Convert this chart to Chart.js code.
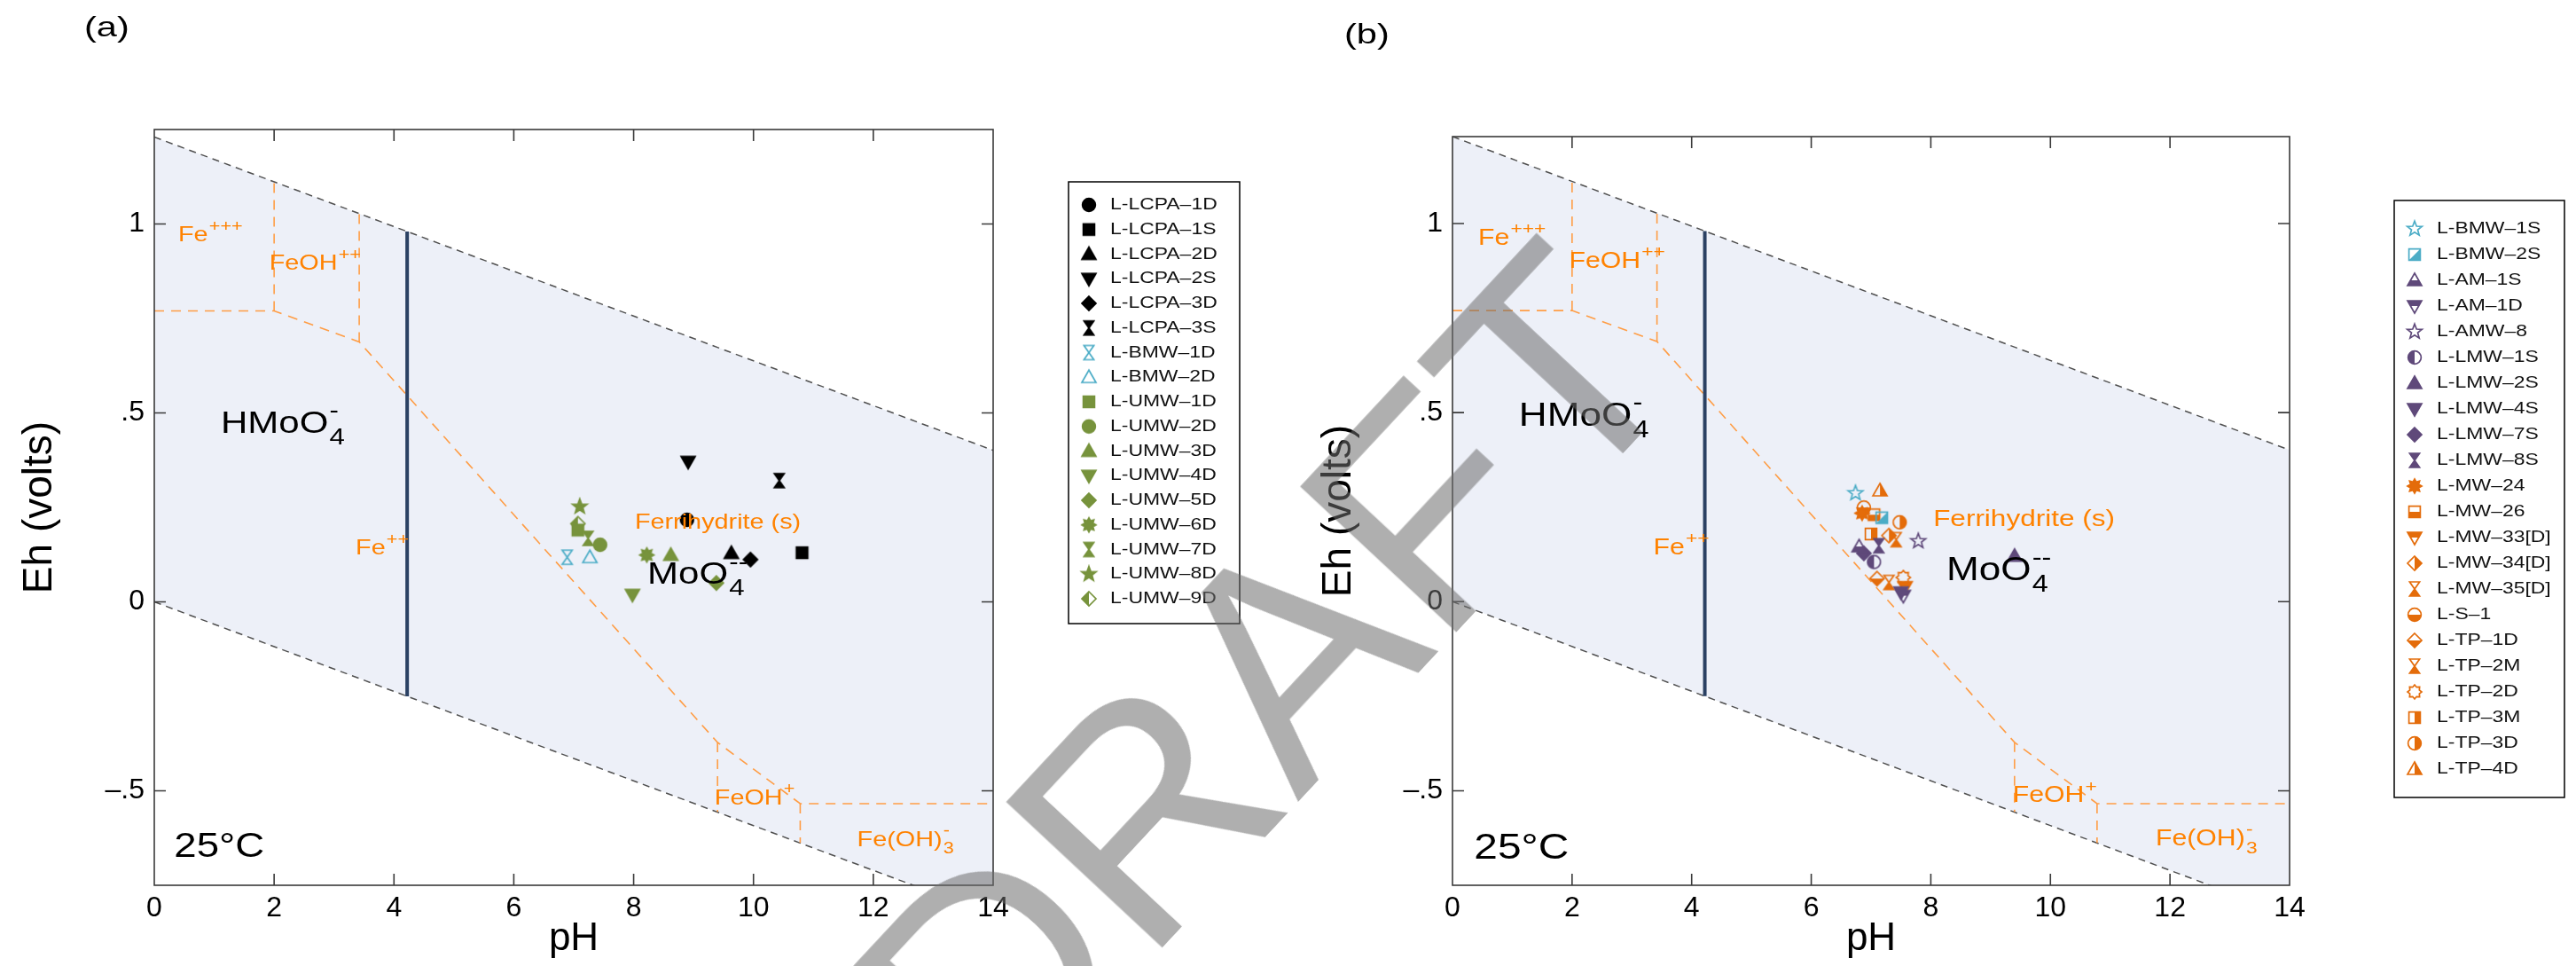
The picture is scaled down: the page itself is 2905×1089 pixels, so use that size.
<!DOCTYPE html>
<html>
<head>
<meta charset="utf-8">
<script src="https://cdn.jsdelivr.net/npm/chart.js@4.4.1/dist/chart.umd.min.js"></script>
<style>
  html, body { margin: 0; padding: 0; background: #fff; }
  body { width: 2905px; height: 1089px; position: relative; overflow: hidden; }
  .panel { position: absolute; top: 0; height: 1089px; }
  #wrapA { left: 0; width: 1452px; }
  #wrapB { left: 1452px; width: 1453px; }
  .tag { position: absolute; font: 32px "Liberation Sans", Arial, sans-serif; transform: scaleX(1.3); transform-origin: left top; }
  #draft { position: absolute; left: 1428px; top: 765px; transform: translate(-50%, -50%) rotate(-47deg);
           font: 350px "Liberation Sans", Arial, sans-serif; color: rgba(110, 110, 110, 0.55);
           line-height: 1; white-space: nowrap; pointer-events: none; z-index: 10; }
</style>
</head>
<body>
<div id="wrapA" class="panel"><canvas id="chartA" width="1452" height="1089"></canvas></div>
<div id="wrapB" class="panel"><canvas id="chartB" width="1453" height="1089"></canvas></div>
<div class="tag" style="left:95px; top:12px">(a)</div>
<div class="tag" style="left:1516px; top:20px">(b)</div>
<div id="draft">DRAFT</div>
<script>
// ---------- axes ----------
const xTicks = [0, 2, 4, 6, 8, 10, 12, 14];
const yTicks = [-0.5, 0, 0.5, 1];

// ---------- boundaries (pH, Eh) ----------
const waterUpper = [[0, 1.23], [14, 0.401]];
const waterLower = [[0, 0], [14, -0.829]];
const moBoundary = [[4.22, 0.98], [4.22, -0.25]];
const feBoundaries = [
  [[0, 0.77], [2, 0.77], [3.42, 0.688], [9.4, -0.372], [10.78, -0.534], [14, -0.534]],
  [[2, 0.77], [2, 1.112]],
  [[3.42, 0.688], [3.42, 1.028]],
  [[9.4, -0.372], [9.4, -0.556]],
  [[10.78, -0.534], [10.78, -0.638]]
];

// ---------- field labels: [text, subscript, superscript] ----------
const speciesText = [
  ['Fe', '', '+++'], ['FeOH', '', '++'], ['HMoO', '4', '-'], ['Fe', '', '++'],
  ['Ferrihydrite (s)', '', ''], ['MoO', '4', '--'], ['FeOH', '', '+'], ['Fe(OH)', '3', '-'], ['25°C', '', '']
];
const speciesPhA = [0.40, 1.92, 1.11, 3.36, 8.02, 8.23, 9.35, 11.73, 0.33];
const speciesEhA = [0.97, 0.895, 0.47, 0.14, 0.21, 0.07, -0.52, -0.63, -0.65];
const speciesPhB = [0.43, 1.95, 1.11, 3.36, 8.04, 8.26, 9.37, 11.76, 0.36];
const speciesEhB = [0.96, 0.90, 0.49, 0.141, 0.216, 0.081, -0.514, -0.628, -0.654];

// ---------- samples, panel (a) ----------
const samplesA = ['L-LCPA–1D', 'L-LCPA–1S', 'L-LCPA–2D', 'L-LCPA–2S', 'L-LCPA–3D', 'L-LCPA–3S',
  'L-BMW–1D', 'L-BMW–2D', 'L-UMW–1D', 'L-UMW–2D', 'L-UMW–3D', 'L-UMW–4D', 'L-UMW–5D',
  'L-UMW–6D', 'L-UMW–7D', 'L-UMW–8D', 'L-UMW–9D'];
const phA = [8.89, 10.81, 9.63, 8.91, 9.95, 10.43, 6.89, 7.27, 7.07, 7.44, 8.62, 7.98, 9.38, 8.22, 7.24, 7.10, 7.07];
const ehA = [0.217, 0.130, 0.129, 0.371, 0.112, 0.321, 0.118, 0.118, 0.190, 0.151, 0.124, 0.019, 0.050, 0.124, 0.168, 0.252, 0.207];

// ---------- samples, panel (b) ----------
const samplesB = ['L-BMW–1S', 'L-BMW–2S', 'L-AM–1S', 'L-AM–1D', 'L-AMW–8', 'L-LMW–1S', 'L-LMW–2S',
  'L-LMW–4S', 'L-LMW–7S', 'L-LMW–8S', 'L-MW–24', 'L-MW–26', 'L-MW–33[D]', 'L-MW–34[D]',
  'L-MW–35[D]', 'L-S–1', 'L-TP–1D', 'L-TP–2M', 'L-TP–2D', 'L-TP–3M', 'L-TP–3D', 'L-TP–4D'];
const phB = [6.74, 7.18, 6.80, 7.54, 7.79, 7.05, 9.40, 7.50, 6.88, 7.13, 6.85, 7.05, 7.57, 7.30, 7.30, 6.88, 7.10, 7.42, 7.54, 7.00, 7.48, 7.15];
const ehB = [0.287, 0.222, 0.146, 0.016, 0.160, 0.105, 0.121, 0.025, 0.128, 0.148, 0.234, 0.230, 0.039, 0.175, 0.051, 0.249, 0.061, 0.164, 0.064, 0.179, 0.210, 0.294];

// ---------- marker styles ----------
const BLACK = '#000000', CYAN = '#4bacc6', GREEN = '#77933c', PURPLE = '#5f497a', ORANGE = '#e46c0a';
const shapesA = ['circle', 'square', 'triUp', 'triDown', 'diamond', 'hourglass', 'hourglass', 'triUp',
  'square', 'circle', 'triUp', 'triDown', 'diamond', 'star8', 'hourglass', 'star5', 'diamond'];
const colorsA = [BLACK, BLACK, BLACK, BLACK, BLACK, BLACK, CYAN, CYAN,
  GREEN, GREEN, GREEN, GREEN, GREEN, GREEN, GREEN, GREEN, GREEN];
const fillsA = ['full', 'full', 'full', 'full', 'full', 'full', 'none', 'none',
  'full', 'full', 'full', 'full', 'full', 'full', 'full', 'full', 'left'];
const shapesB = ['star5', 'square', 'triUp', 'triDown', 'star5', 'circle', 'triUp', 'triDown', 'diamond',
  'hourglass', 'star8', 'square', 'triDown', 'diamond', 'hourglass', 'circle', 'diamond', 'hourglass',
  'sun', 'square', 'circle', 'triUp'];
const colorsB = [CYAN, CYAN, PURPLE, PURPLE, PURPLE, PURPLE, PURPLE, PURPLE, PURPLE, PURPLE,
  ORANGE, ORANGE, ORANGE, ORANGE, ORANGE, ORANGE, ORANGE, ORANGE, ORANGE, ORANGE, ORANGE, ORANGE];
const fillsB = ['none', 'diag', 'bottom', 'top', 'none', 'left', 'full', 'full', 'full', 'full',
  'full', 'bottom', 'top', 'right', 'bottom', 'bottom', 'bottom', 'bottom', 'none', 'right', 'right', 'right'];

const FONT = '"Liberation Sans", Arial, Helvetica, sans-serif';
const FE_ORANGE = '#ff8200';
const TEXT_STRETCH = 1.2;

function makeMarker(shape, color, fill, size) {
  const S = size + 6;
  const c = document.createElement('canvas');
  c.width = S; c.height = S;
  const ctx = c.getContext('2d');
  const m = S / 2, r = size / 2;
  const path = () => {
    ctx.beginPath();
    if (shape === 'circle') {
      ctx.arc(m, m, r * 0.92, 0, Math.PI * 2);
    } else if (shape === 'square') {
      ctx.rect(m - r * 0.8, m - r * 0.8, r * 1.6, r * 1.6);
    } else if (shape === 'triUp') {
      ctx.moveTo(m, m - r); ctx.lineTo(m + r, m + r * 0.75); ctx.lineTo(m - r, m + r * 0.75);
    } else if (shape === 'triDown') {
      ctx.moveTo(m, m + r); ctx.lineTo(m + r, m - r * 0.75); ctx.lineTo(m - r, m - r * 0.75);
    } else if (shape === 'diamond') {
      ctx.moveTo(m, m - r); ctx.lineTo(m + r, m); ctx.lineTo(m, m + r); ctx.lineTo(m - r, m);
    } else if (shape === 'hourglass') {
      ctx.moveTo(m - r * 0.7, m - r); ctx.lineTo(m + r * 0.7, m - r);
      ctx.lineTo(m - r * 0.7, m + r); ctx.lineTo(m + r * 0.7, m + r);
    } else {
      const n = shape === 'star5' ? 5 : 8;
      const inner = shape === 'star5' ? 0.42 : (shape === 'sun' ? 0.72 : 0.62);
      const R = shape === 'star5' ? r * 1.1 : r;
      for (let k = 0; k < 2 * n; k++) {
        const a = -Math.PI / 2 + k * Math.PI / n;
        const rad = k % 2 ? R * inner : R;
        ctx.lineTo(m + rad * Math.cos(a), m + rad * Math.sin(a));
      }
    }
    ctx.closePath();
  };
  ctx.lineWidth = 1.7;
  ctx.strokeStyle = color;
  ctx.fillStyle = color;
  if (fill === 'full') {
    path(); ctx.fill();
  } else if (fill !== 'none') {
    ctx.save();
    path(); ctx.clip();
    ctx.beginPath();
    if (fill === 'left') ctx.rect(0, 0, m, S);
    else if (fill === 'right') ctx.rect(m, 0, S, S);
    else if (fill === 'top') ctx.rect(0, 0, S, m);
    else if (fill === 'bottom') ctx.rect(0, m, S, S);
    else { ctx.moveTo(S, 0); ctx.lineTo(S, S); ctx.lineTo(0, S); ctx.closePath(); }
    ctx.fill();
    ctx.restore();
  }
  path(); ctx.stroke();
  return c;
}

function drawChem(ctx, x, y, parts, size, color) {
  const [base, sub, sup] = parts;
  ctx.save();
  ctx.translate(x, y);
  ctx.scale(TEXT_STRETCH, 1);
  ctx.fillStyle = color;
  ctx.textBaseline = 'middle';
  ctx.textAlign = 'left';
  ctx.font = size + 'px ' + FONT;
  ctx.fillText(base, 0, 0);
  const cx = ctx.measureText(base).width + 1;
  ctx.font = Math.round(size * 0.74) + 'px ' + FONT;
  if (sub) ctx.fillText(sub, cx, size * 0.43);
  if (sup) ctx.fillText(sup, cx, -size * 0.4);
  ctx.restore();
}

const toXY = pts => pts.map(p => ({ x: p[0], y: p[1] }));
const fmtEh = v => v === 0 ? '0' : (v < 0 ? '–' : '') + String(Math.abs(v)).replace(/^0(?=\.)/, '');

function buildPanel(id, cfg) {
  const markers = cfg.shapes.map((s, i) => makeMarker(s, cfg.colors[i], cfg.fills[i], 16));

  const datasets = [
    { type: 'line', data: toXY(waterUpper), borderColor: '#505050', borderWidth: 1.5, borderDash: [8, 6],
      pointRadius: 0, fill: '+1', backgroundColor: '#edf0f8', order: 6 },
    { type: 'line', data: toXY(waterLower), borderColor: '#505050', borderWidth: 1.5, borderDash: [8, 6],
      pointRadius: 0, fill: false, order: 5 }
  ];
  feBoundaries.forEach(seg => datasets.push({
    type: 'line', data: toXY(seg), borderColor: '#ff9d45', borderWidth: 1.6, borderDash: [11, 8],
    pointRadius: 0, fill: false, order: 4
  }));
  datasets.push({ type: 'line', data: toXY(moBoundary), borderColor: '#2b4163', borderWidth: 4,
    pointRadius: 0, fill: false, order: 3 });
  cfg.names.forEach((n, i) => datasets.push({
    type: 'scatter', label: n, data: [{ x: cfg.ph[i], y: cfg.eh[i] }],
    pointStyle: markers[i], pointRadius: 8, order: 0
  }));

  // field names
  const speciesPlugin = {
    id: 'species',
    afterDatasetsDraw(chart) {
      const { ctx, scales: { x, y } } = chart;
      speciesText.forEach((parts, i) => {
        let size = 24, color = FE_ORANGE;
        if (parts[0] === 'HMoO' || parts[0] === 'MoO') { size = 35; color = '#000'; }
        if (parts[0] === '25°C') { size = 38; color = '#000'; }
        if (parts[0].startsWith('Ferri')) size = cfg.ferriSize;
        drawChem(ctx, x.getPixelForValue(cfg.spPh[i]), y.getPixelForValue(cfg.spEh[i]), parts, size * cfg.textScale, color);
      });
    }
  };

  // box with inward ticks on all four sides
  const framePlugin = {
    id: 'frame',
    afterDraw(chart) {
      const { ctx, chartArea: a, scales: { x, y } } = chart;
      ctx.save();
      ctx.strokeStyle = '#3a3a3a';
      ctx.lineWidth = 1.6;
      ctx.strokeRect(a.left, a.top, a.right - a.left, a.bottom - a.top);
      ctx.beginPath();
      xTicks.slice(1, -1).forEach(v => {
        const px = x.getPixelForValue(v);
        ctx.moveTo(px, a.bottom); ctx.lineTo(px, a.bottom - 13);
        ctx.moveTo(px, a.top); ctx.lineTo(px, a.top + 13);
      });
      yTicks.forEach(v => {
        const py = y.getPixelForValue(v);
        ctx.moveTo(a.left, py); ctx.lineTo(a.left + 13, py);
        ctx.moveTo(a.right, py); ctx.lineTo(a.right - 13, py);
      });
      ctx.stroke();
      ctx.restore();
    }
  };

  // boxed legend to the right of the plot
  const legendPlugin = {
    id: 'sampleLegend',
    afterDraw(chart) {
      const { ctx } = chart;
      const L = cfg.legend;
      ctx.save();
      ctx.strokeStyle = '#000';
      ctx.lineWidth = 1.5;
      ctx.strokeRect(L.x, L.y, L.w, L.h);
      cfg.names.forEach((n, i) => {
        const ry = L.rowY + i * L.step;
        const mk = markers[i];
        ctx.drawImage(mk, L.markerX - mk.width / 2, ry - mk.height / 2);
        ctx.save();
        ctx.translate(L.textX, ry);
        ctx.scale(1.24, 1);
        ctx.fillStyle = '#111';
        ctx.font = '18.5px ' + FONT;
        ctx.textBaseline = 'middle';
        ctx.fillText(n, 0, 0);
        ctx.restore();
      });
      ctx.restore();
    }
  };

  return new Chart(document.getElementById(id), {
    type: 'scatter',
    data: { datasets },
    options: {
      responsive: false,
      animation: false,
      devicePixelRatio: 1,
      layout: { padding: cfg.padding },
      plugins: { legend: { display: false }, tooltip: { enabled: false } },
      scales: {
        x: {
          type: 'linear', min: 0, max: 14,
          afterBuildTicks: s => { s.ticks = xTicks.map(v => ({ value: v })); },
          afterFit: s => { s.height = 91; },
          grid: { display: false, drawTicks: false },
          border: { display: false },
          ticks: { color: '#000', padding: 7, maxRotation: 0, font: { size: 32, family: FONT } },
          title: { display: true, text: 'pH', color: '#000', font: { size: 44, family: FONT },
                   padding: { top: 0, bottom: 4 } }
        },
        y: {
          type: 'linear', min: cfg.yMin, max: cfg.yMax,
          afterBuildTicks: s => { s.ticks = yTicks.map(v => ({ value: v })); },
          afterFit: s => { s.width = cfg.yWidth; },
          grid: { display: false, drawTicks: false },
          border: { display: false },
          ticks: { color: '#000', padding: 11, callback: fmtEh, font: { size: 32, family: FONT } },
          title: { display: true, text: 'Eh (volts)', color: '#000', font: { size: 46, family: FONT },
                   padding: { top: cfg.yTitlePad, bottom: 0 } }
        }
      }
    },
    plugins: [speciesPlugin, legendPlugin, framePlugin]
  });
}

Chart.defaults.font.family = FONT;

buildPanel('chartA', {
  names: samplesA, ph: phA, eh: ehA, shapes: shapesA, colors: colorsA, fills: fillsA,
  spPh: speciesPhA, spEh: speciesEhA, textScale: 1, ferriSize: 24,
  yMin: -0.75, yMax: 1.25, yWidth: 174, yTitlePad: 18,
  padding: { left: 0, top: 146, right: 332, bottom: 0 },
  legend: { x: 1205, y: 205, w: 193, h: 498, markerX: 1228, textX: 1252, rowY: 231, step: 27.75 }
});

buildPanel('chartB', {
  names: samplesB, ph: phB, eh: ehB, shapes: shapesB, colors: colorsB, fills: fillsB,
  spPh: speciesPhB, spEh: speciesEhB, textScale: 1.05, ferriSize: 25,
  yMin: -0.75, yMax: 1.23, yWidth: 186, yTitlePad: 31,
  padding: { left: 0, top: 154, right: 323, bottom: 0 },
  legend: { x: 1248, y: 226, w: 192, h: 673, markerX: 1271, textX: 1296, rowY: 258, step: 29 }
});
</script>
</body>
</html>
